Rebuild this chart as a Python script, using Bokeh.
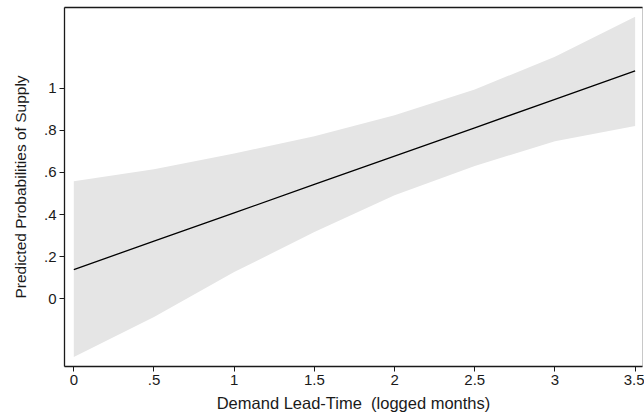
from bokeh.plotting import figure
from bokeh.models import FixedTicker, LinearAxis, Range1d
from bokeh.embed import file_html
from bokeh.resources import INLINE

# Data
lead_time = [0, 0.5, 1, 1.5, 2, 2.5, 3, 3.5]
predicted = [0.139, 0.274, 0.408, 0.543, 0.678, 0.812, 0.947, 1.082]
upper_ci = [0.558, 0.615, 0.690, 0.772, 0.872, 0.994, 1.149, 1.339]
lower_ci = [-0.276, -0.086, 0.127, 0.317, 0.492, 0.631, 0.748, 0.821]

x_ticks = [0, 0.5, 1, 1.5, 2, 2.5, 3, 3.5]
x_tick_labels = ["0", ".5", "1", "1.5", "2", "2.5", "3", "3.5"]
y_ticks = [0, 0.2, 0.4, 0.6, 0.8, 1]
y_tick_labels = ["0", ".2", ".4", ".6", ".8", "1"]

FONT = "Liberation Sans"
DARK = "#1a1a1a"

p = figure(width=644, height=417, output_backend="svg", toolbar_location=None,
           x_range=Range1d(-0.058, 3.546), y_range=Range1d(-0.321, 1.383),
           min_border_left=64, min_border_right=2, min_border_top=7, min_border_bottom=51)
p.toolbar.logo = None
p.background_fill_color = "white"
p.border_fill_color = "white"
p.outline_line_color = "#c8c8c8"
p.outline_line_width = 1
p.xgrid.visible = False
p.ygrid.visible = False

p.varea(x=lead_time, y1=lower_ci, y2=upper_ci, fill_color="#e5e5e5", fill_alpha=1.0)
p.line(x=lead_time, y=predicted, line_color="black", line_width=1.3)

for ax in (p.xaxis[0], p.yaxis[0]):
    ax.axis_line_color = DARK
    ax.axis_line_width = 1.3
    ax.major_tick_line_color = DARK
    ax.major_tick_line_width = 1
    ax.major_tick_out = 5
    ax.major_tick_in = 0
    ax.minor_tick_line_color = None
    ax.major_label_text_font = FONT
    ax.major_label_text_font_size = "15px"
    ax.major_label_text_color = DARK
    ax.axis_label_text_font = FONT
    ax.axis_label_text_font_style = "normal"
    ax.axis_label_text_color = DARK

p.xaxis[0].ticker = FixedTicker(ticks=x_ticks)
p.xaxis[0].major_label_overrides = dict(zip(x_ticks, x_tick_labels))
p.xaxis[0].axis_label = "Demand Lead-Time\u00a0 (logged months)"
p.xaxis[0].axis_label_text_font_size = "16.5px"
p.xaxis[0].major_label_standoff = 3
p.xaxis[0].axis_label_standoff = 6

p.yaxis[0].ticker = FixedTicker(ticks=y_ticks)
p.yaxis[0].major_label_overrides = dict(zip(y_ticks, y_tick_labels))
p.yaxis[0].axis_label = "Predicted Probabilities of Supply"
p.yaxis[0].axis_label_text_font_size = "15.5px"
p.yaxis[0].major_label_orientation = "horizontal"
p.yaxis[0].major_label_standoff = 3
p.yaxis[0].axis_label_standoff = 12

top = LinearAxis(ticker=FixedTicker(ticks=[]), axis_line_color=DARK, axis_line_width=1.3,
                 major_tick_out=0, major_tick_in=0, minor_tick_out=0, minor_tick_in=0,
                 major_label_text_font_size="0px", major_label_standoff=0)
p.add_layout(top, "above")

open("out.html", "w").write(file_html(p, INLINE))
